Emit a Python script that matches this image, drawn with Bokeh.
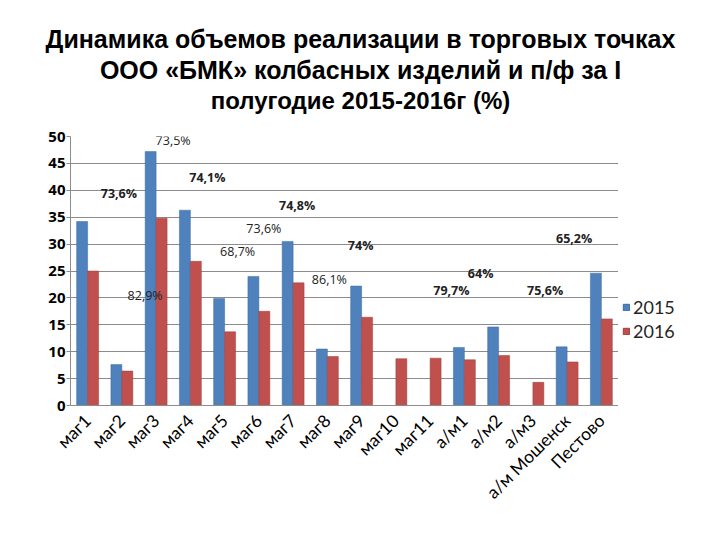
import math
from bokeh.plotting import figure
from bokeh.layouts import row, column
from bokeh.models import (ColumnDataSource, FactorRange, Label, Legend, LegendItem,
                          FixedTicker, Range1d)
from bokeh.transform import dodge
from bokeh.core.properties import value
from bokeh.embed import file_html
from bokeh.resources import INLINE

categories = ["маг1", "маг2", "маг3", "маг4", "маг5", "маг6", "маг7", "маг8", "маг9",
              "маг10", "маг11", "а/м1", "а/м2", "а/м3", "а/м Мошенск", "Пестово"]
nan = float("nan")
v2015 = [34.2, 7.6, 47.2, 36.3, 19.9, 24.0, 30.5, 10.5, 22.2, nan, nan, 10.8, 14.6, nan, 10.9, 24.6]
v2016 = [25.0, 6.4, 34.8, 26.8, 13.7, 17.5, 22.8, 9.1, 16.4, 8.7, 8.8, 8.5, 9.3, 4.3, 8.1, 16.1]
series = ["2015", "2016"]

pct_text = ["73,6%", "82,9%", "73,5%", "74,1%", "68,7%", "73,6%", "74,8%", "86,1%", "74%",
            "79,7%", "64%", "75,6%", "65,2%"]
pct_cat = ["маг2", "маг3", "маг3", "маг4", "маг5", "маг6", "маг7", "маг8", "маг9",
           "а/м1", "а/м2", "а/м Мошенск", "а/м Мошенск"]
pct_y = [39.4, 20.4, 49.3, 42.4, 28.6, 32.9, 37.2, 23.4, 29.7, 21.4, 24.5, 21.4, 31.0]
pct_dx = [-3, -11, 17, 17, 13, 5, 4, 2, -1, -13, -18, -22, 7]
pct_bold = [True, False, False, True, False, False, True, False, True, True, True, True, True]

title_lines = ["Динамика объемов реализации в торговых точках",
               "ООО «БМК» колбасных изделий и п/ф за I",
               "полугодие 2015-2016г (%)"]
title_sizes = ["25px", "25px", "24px"]
title_y = [0.698, 0.452, 0.206]

BLUE = "#4F81BD"
RED = "#C0504D"
BLUE_EDGE = "#3C6A9E"
RED_EDGE = "#9E3C3A"


def blank(fig):
    fig.axis.visible = False
    fig.grid.visible = False
    fig.outline_line_color = None
    fig.background_fill_color = "white"
    fig.border_fill_color = "white"


# ---- title strip ----
tf = figure(frame_width=720, frame_height=126, x_range=Range1d(0, 1), y_range=Range1d(0, 1),
            output_backend="svg", toolbar_location=None,
            min_border_left=0, min_border_right=0, min_border_top=0, min_border_bottom=0)
blank(tf)
for line, fs, ty in zip(title_lines, title_sizes, title_y):
    tf.add_layout(Label(x=0.5, y=ty, text=line, text_align="center", text_baseline="middle",
                        text_font="Liberation Sans", text_font_size=fs,
                        text_font_style="bold", text_color="black"))

# ---- main chart ----
p = figure(frame_width=548, frame_height=269, x_range=FactorRange(*categories), y_range=(0, 50),
           output_backend="svg", toolbar_location=None,
           min_border_left=70, min_border_right=0, min_border_bottom=135, min_border_top=10)
p.outline_line_color = None
p.background_fill_color = "white"
p.border_fill_color = "white"

src = ColumnDataSource(dict(cat=categories, y2015=v2015, y2016=v2016))
p.vbar(x=dodge("cat", -0.16, range=p.x_range), top="y2015", width=0.32, source=src,
       fill_color=BLUE, line_color=BLUE_EDGE, line_width=0.5)
p.vbar(x=dodge("cat", 0.16, range=p.x_range), top="y2016", width=0.32, source=src,
       fill_color=RED, line_color=RED_EDGE, line_width=0.5)

bold_src = ColumnDataSource(dict(
    x=[c for c, b in zip(pct_cat, pct_bold) if b],
    y=[y for y, b in zip(pct_y, pct_bold) if b],
    t=[t for t, b in zip(pct_text, pct_bold) if b],
    dx=[d for d, b in zip(pct_dx, pct_bold) if b]))
norm_src = ColumnDataSource(dict(
    x=[c for c, b in zip(pct_cat, pct_bold) if not b],
    y=[y for y, b in zip(pct_y, pct_bold) if not b],
    t=[t for t, b in zip(pct_text, pct_bold) if not b],
    dx=[d for d, b in zip(pct_dx, pct_bold) if not b]))
p.text(x="x", y="y", text="t", x_offset="dx", source=bold_src, text_align="center",
       text_baseline="middle", text_font=value("Open Sans"), text_font_size="12.5px",
       text_font_style="bold", text_color="#222222")
p.text(x="x", y="y", text="t", x_offset="dx", source=norm_src, text_align="center",
       text_baseline="middle", text_font=value("Open Sans"), text_font_size="12.5px",
       text_color="#222222")

p.xgrid.grid_line_color = None
p.ygrid.grid_line_color = "#8C8C8C"
p.ygrid.grid_line_width = 1

p.yaxis.ticker = FixedTicker(ticks=list(range(0, 51, 5)))
p.yaxis.major_label_text_font = "Open Sans"
p.yaxis.major_label_text_font_style = "bold"
p.yaxis.major_label_text_font_size = "15px"
p.yaxis.major_label_text_color = "black"
p.yaxis.major_label_standoff = 1
p.yaxis.axis_line_color = "#8C8C8C"
p.yaxis.major_tick_line_color = "#8C8C8C"
p.yaxis.major_tick_out = 4
p.yaxis.major_tick_in = 0
p.yaxis.minor_tick_line_color = None

p.xaxis.major_label_orientation = math.pi / 4
p.xaxis.major_label_text_font = "Lato"
p.xaxis.major_label_text_font_size = "17.5px"
p.xaxis.major_label_text_color = "black"
p.xaxis.axis_line_color = "#8C8C8C"
p.xaxis.major_tick_line_color = None
p.xaxis.major_label_standoff = 6

# ---- legend strip to the right of the chart ----
lf = figure(frame_width=102, frame_height=414, x_range=Range1d(0, 1), y_range=Range1d(0, 1),
            output_backend="svg", toolbar_location=None,
            min_border_left=0, min_border_right=0, min_border_top=0, min_border_bottom=0)
blank(lf)
hidden = ColumnDataSource(dict(x=[-10.0], top=[-10.0]))
g1 = lf.vbar(x="x", top="top", width=0.1, source=hidden, fill_color=BLUE, line_color=BLUE_EDGE)
g2 = lf.vbar(x="x", top="top", width=0.1, source=hidden, fill_color=RED, line_color=RED_EDGE)
legend = Legend(items=[LegendItem(label=series[0], renderers=[g1]),
                       LegendItem(label=series[1], renderers=[g2])],
                location=(4, 198), border_line_color=None, background_fill_alpha=0,
                glyph_width=8, glyph_height=8, label_text_font="Lato",
                label_text_font_size="18px", label_text_color="#262626",
                spacing=2, padding=2, margin=0, label_standoff=3)
lf.add_layout(legend, "center")

layout = column(tf, row(p, lf, spacing=0), spacing=0)
open("out.html", "w").write(file_html(layout, INLINE))
